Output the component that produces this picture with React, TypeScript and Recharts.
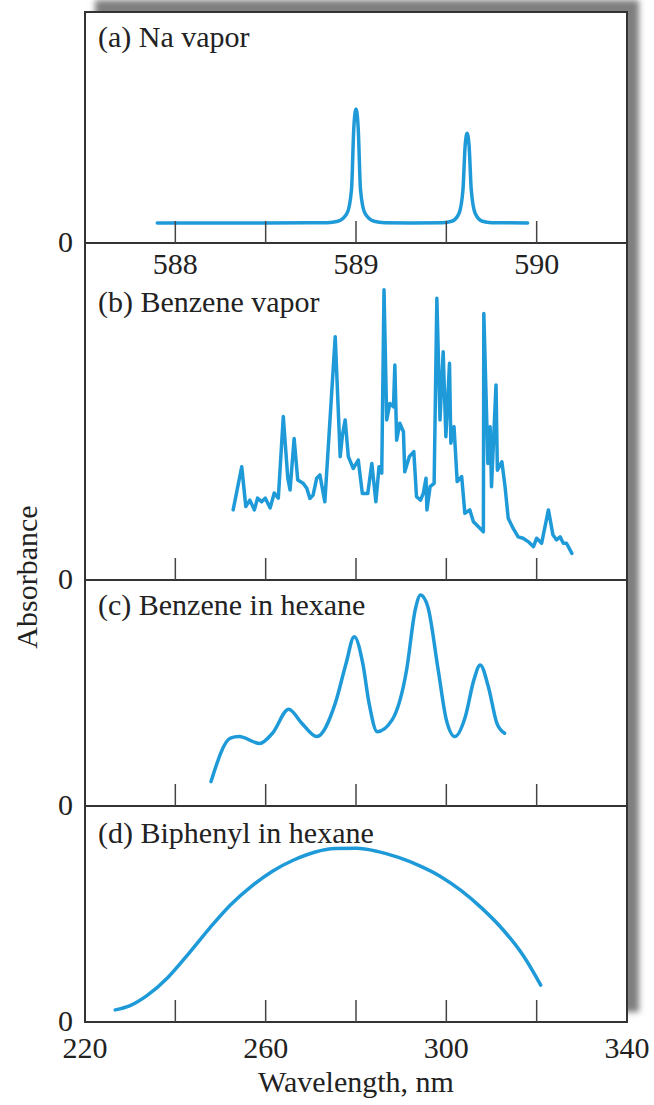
import React from 'react';
import { LineChart, Line, XAxis, YAxis } from 'recharts';

// ---------- data ----------
// (a) Na vapor: wavelength (nm) / absorbance (relative, 0-100 of panel height)
const naX = [587.9, 588.5, 588.84, 588.9, 588.95, 588.975, 588.988, 589.0, 589.012, 589.025, 589.05, 589.1, 589.16, 589.3, 589.48, 589.53, 589.57, 589.592, 589.604, 589.615, 589.626, 589.638, 589.66, 589.7, 589.75, 589.95];
const naY = [8.7, 8.7, 8.8, 9.4, 12.8, 23, 50, 58, 50, 23, 12.8, 9.4, 8.8, 8.7, 8.8, 9.4, 12.8, 23, 42, 47.5, 42, 23, 12.8, 9.4, 8.8, 8.7];

// (b) Benzene vapor
const bvX = [252.8, 254.7, 255.6, 256.5, 257.5, 258.2, 259.1, 259.9, 261.0, 261.9, 262.8, 263.9, 264.9, 265.4, 266.3, 267.1, 268.3, 269.1, 269.8, 270.5, 271.3, 272.0, 273.1, 275.4, 276.5, 277.0, 277.6, 278.3, 279.4, 280.5, 281.4, 282.6, 283.5, 284.4, 285.1, 285.7, 286.2, 286.8, 287.5, 288.3, 288.6, 289.0, 289.7, 290.5, 290.8, 291.8, 292.8, 293.4, 294.3, 294.9, 295.5, 295.7, 296.4, 297.3, 297.9, 298.6, 299.3, 299.9, 300.7, 301.0, 301.7, 302.4, 303.4, 304.1, 305.2, 306.0, 308.2, 308.3, 309.2, 309.7, 310.0, 311.0, 311.3, 312.3, 313.0, 313.7, 314.8, 315.9, 317.0, 318.1, 319.3, 320.0, 321.1, 322.6, 323.6, 324.4, 325.2, 325.9, 326.6, 327.8];
const bvY = [20.8, 33.6, 21.8, 23.7, 20.8, 24.3, 23.2, 24.3, 21.4, 25.8, 24.3, 48.5, 30.2, 26.7, 42.0, 29.7, 28.7, 27.2, 24.2, 25.2, 30.2, 31.2, 23.2, 72.2, 36.6, 43.0, 47.5, 36.6, 33.1, 35.6, 25.7, 25.7, 34.6, 23.2, 33.6, 31.7, 86.1, 47.5, 52.4, 51.4, 63.8, 41.5, 46.5, 44.0, 32.1, 36.6, 38.1, 24.7, 23.7, 25.7, 30.2, 20.8, 27.7, 28.7, 83.6, 47.5, 67.7, 42.5, 64.3, 40.6, 45.5, 29.2, 30.7, 19.8, 20.8, 17.3, 14.3, 79.1, 34.6, 45.5, 27.7, 57.9, 32.6, 35.1, 27.7, 18.3, 15.3, 12.8, 12.4, 11.4, 9.9, 12.4, 10.9, 20.8, 13.4, 11.9, 12.8, 10.9, 10.9, 7.9];

// (c) Benzene in hexane
const bhX = [247.9, 252.2, 254.1, 258.7, 261.5, 265.1, 268.0, 271.3, 275.4, 277.8, 279.6, 281.5, 282.9, 284.7, 288.0, 291.2, 293.1, 294.3, 295.9, 298.2, 300.0, 301.9, 304.2, 306.1, 307.5, 309.3, 311.2, 312.9];
const bhY = [10.8, 30.0, 30.7, 27.7, 32.2, 42.8, 36.6, 30.7, 45.4, 63.1, 74.9, 63.1, 45.4, 32.9, 38.1, 60.2, 86.7, 93.4, 88.2, 60.2, 38.1, 30.7, 39.5, 55.8, 62.4, 52.8, 36.6, 32.2];

// (d) Biphenyl in hexane
const bpX = [226.7, 230.0, 233.7, 238.3, 243.0, 247.6, 252.2, 256.9, 261.5, 266.2, 270.8, 275.4, 280.1, 284.7, 289.4, 294.0, 298.7, 303.3, 307.9, 312.6, 317.2, 320.9];
const bpY = [5.6, 7.6, 12.2, 20.5, 31.8, 43.5, 54.2, 62.9, 69.8, 75.0, 78.6, 80.3, 80.4, 79.0, 76.2, 72.4, 67.4, 60.8, 52.6, 42.6, 30.2, 17.1];

// tick values / labels
const naTicks = [588, 588.5, 589, 589.5, 590];
const naTickLabels = [588, 589, 590];
const wlTicks = [220, 240, 260, 280, 300, 320, 340];
const wlTickLines = [240, 260, 280, 300, 320];
const wlTickLabels = [220, 260, 300, 340];
const panelTitles = ['(a) Na vapor', '(b) Benzene vapor', '(c) Benzene in hexane', '(d) Biphenyl in hexane'];

// ---------- styling ----------
const FONT = '"Liberation Serif", "Times New Roman", serif';
const FS = 30;
const BLUE = '#1f9ad8';
const INK = '#222';
const AXIS = '#333';

const toRows = (xs: number[], ys: number[]) => xs.map((x, i) => ({ x, y: ys[i] }));

const makeTick = (lines: number[], labels: number[], dy: number) => (props: any) => {
  const { x, y, payload } = props;
  const v = payload.value;
  return (
    <g>
      {lines.includes(v) && <line x1={x} x2={x} y1={y} y2={y - 22} stroke="#444" strokeWidth={1.5} />}
      {labels.includes(v) && (
        <text x={x} y={y + dy} textAnchor="middle" fontFamily={FONT} fontSize={FS} fill={INK}>
          {v}
        </text>
      )}
    </g>
  );
};

const zeroTick = (props: any) => {
  const { x, y } = props;
  return (
    <text x={x} y={y} dy={9} textAnchor="end" fontFamily={FONT} fontSize={FS} fill={INK}>
      0
    </text>
  );
};

interface PanelProps {
  top: number;
  height: number;
  marginTop: number;
  axisHeight: number;
  data: { x: number; y: number }[];
  domain: [number, number];
  ticks: number[];
  tick: any;
  curve: 'monotone' | 'linear' | 'natural';
  xLabel?: string;
}

const Panel = ({ top, height, marginTop, axisHeight, data, domain, ticks, tick, curve, xLabel }: PanelProps) => (
  <div style={{ position: 'absolute', left: 0, top, width: 654, height }}>
    <LineChart width={654} height={height} data={data} margin={{ top: marginTop, right: 27, bottom: 0, left: 45 }}>
      <XAxis
        type="number"
        dataKey="x"
        domain={domain}
        ticks={ticks}
        interval={0}
        allowDataOverflow
        height={axisHeight}
        tickSize={0}
        tickMargin={0}
        tickLine={false}
        axisLine={{ stroke: AXIS, strokeWidth: 2 }}
        tick={tick}
        label={
          xLabel
            ? { value: xLabel, position: 'insideBottom', offset: 13, fontFamily: FONT, fontSize: FS, fill: INK }
            : undefined
        }
      />
      <YAxis
        type="number"
        domain={[0, 100]}
        ticks={[0]}
        width={40}
        tickSize={0}
        tickMargin={12}
        tickLine={false}
        axisLine={false}
        allowDataOverflow
        tick={zeroTick}
      />
      <Line
        type={curve}
        dataKey="y"
        stroke={BLUE}
        strokeWidth={3.5}
        dot={false}
        isAnimationActive={false}
        strokeLinejoin="round"
        strokeLinecap="round"
      />
    </LineChart>
  </div>
);

const titleBaselines = [47, 312, 615, 843];

export default function App() {
  return (
    <div style={{ position: 'absolute', left: 0, top: 0, width: 654, height: 1105, background: '#fff', overflow: 'hidden' }}>
      {/* frame with drop shadow */}
      <div
        style={{
          position: 'absolute',
          left: 84,
          top: 11,
          width: 544,
          height: 1012,
          boxSizing: 'border-box',
          border: `2px solid ${AXIS}`,
          background: '#fff',
          boxShadow: '11px -11px 6px rgba(0,0,0,0.5)',
        }}
      />
      <Panel
        top={0}
        height={300}
        marginTop={12}
        axisHeight={57}
        data={toRows(naX, naY)}
        domain={[587.5, 590.5]}
        ticks={naTicks}
        tick={makeTick(naTicks, naTickLabels, 31)}
        curve="monotone"
      />
      <Panel
        top={243}
        height={357}
        marginTop={0}
        axisHeight={20}
        data={toRows(bvX, bvY)}
        domain={[220, 340]}
        ticks={wlTicks}
        tick={makeTick(wlTickLines, [], 0)}
        curve="linear"
      />
      <Panel
        top={580}
        height={246}
        marginTop={0}
        axisHeight={20}
        data={toRows(bhX, bhY)}
        domain={[220, 340]}
        ticks={wlTicks}
        tick={makeTick(wlTickLines, [], 0)}
        curve="monotone"
      />
      <Panel
        top={806}
        height={299}
        marginTop={0}
        axisHeight={83}
        data={toRows(bpX, bpY)}
        domain={[220, 340]}
        ticks={wlTicks}
        tick={makeTick(wlTickLines, wlTickLabels, 36)}
        curve="monotone"
        xLabel="Wavelength, nm"
      />
      <svg
        width={654}
        height={1105}
        style={{ position: 'absolute', left: 0, top: 0, pointerEvents: 'none' }}
      >
        {panelTitles.map((t, i) => (
          <text key={t} x={98} y={titleBaselines[i]} fontFamily={FONT} fontSize={FS} fill={INK}>
            {t}
          </text>
        ))}
        <text
          x={37}
          y={577}
          transform="rotate(-90 37 577)"
          textAnchor="middle"
          fontFamily={FONT}
          fontSize={FS}
          fill={INK}
        >
          Absorbance
        </text>
      </svg>
    </div>
  );
}
